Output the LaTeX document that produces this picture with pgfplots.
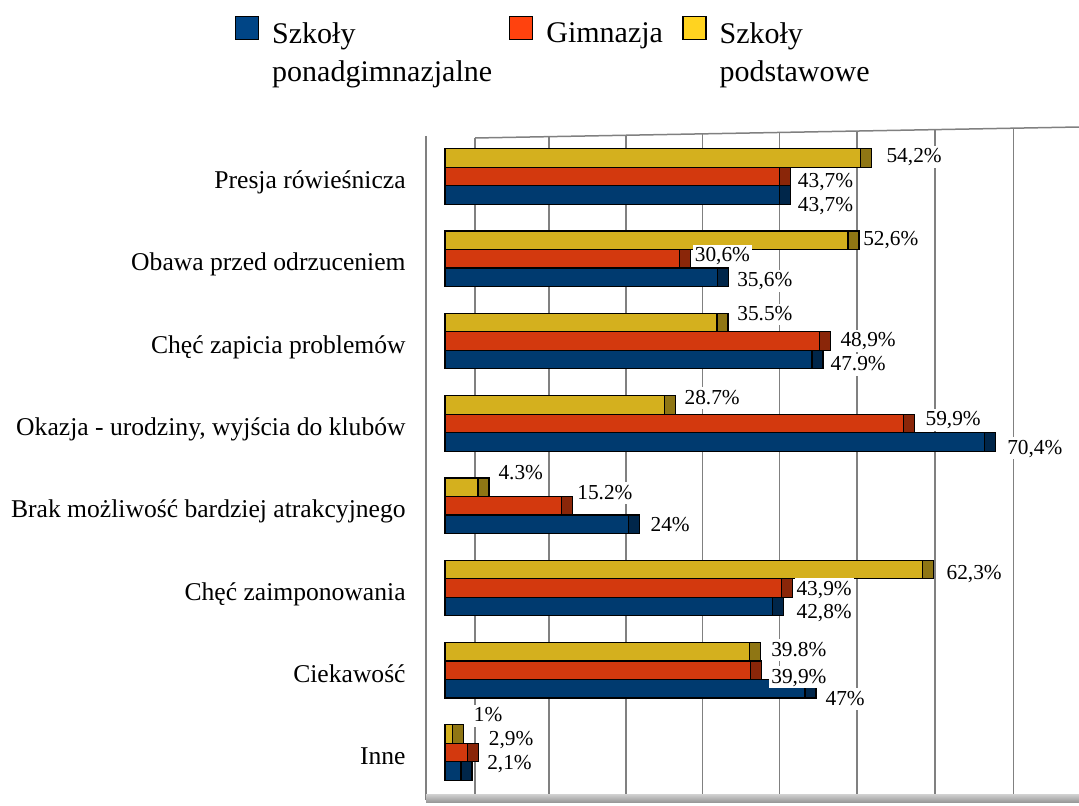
\documentclass[border=0pt]{standalone}
\usepackage{fontspec}
\setmainfont{Liberation Serif}
\usepackage{pgfplots}
\usepackage{pgfplotstable}
\pgfplotsset{compat=1.18}

\definecolor{barYel}{HTML}{D4B01E}
\definecolor{barRed}{HTML}{D3390E}
\definecolor{barBlue}{HTML}{003A6F}
\definecolor{capYel}{HTML}{8F7614}
\definecolor{capRed}{HTML}{8A2609}
\definecolor{capBlue}{HTML}{00264A}
\definecolor{legBlue}{HTML}{004586}
\definecolor{legRed}{HTML}{FF420E}
\definecolor{legYel}{HTML}{FFD320}
\definecolor{gridc}{HTML}{808080}

% k = category index (0 = top), v = value, lab = label text, dx/dy = label offsets (px)
\pgfplotstableread{
k v lab dx dy
0 54.2 54,2 14.8 -2.5
1 52.6 52,6 3.8 -2
2 35.5 35.5 8.8 -9.3
3 28.7 28.7 8.2 -8
4 4.3 4.3 9 -14.7
5 62.3 62,3 12.8 3
6 39.8 39.8 9.8 -3
7 1 1 9.6 -19.6
}\tabY

\pgfplotstableread{
k v lab dx dy
0 43.7 43,7 6.6 3.5
1 30.6 30,6 3.9 -4.1
2 48.9 48,9 9.4 -1.4
3 59.9 59,9 10.2 -5
4 15.2 15.2 4.3 -13.7
5 43.9 43,9 3.7 0
6 39.9 39,9 9.1 5.7
7 2.9 2,9 10.1 -14.3
}\tabR

\pgfplotstableread{
k v lab dx dy
0 43.7 43,7 6.6 9
1 35.6 35,6 8 2.4
2 47.9 47.9 7.1 4.1
3 70.4 70,4 11.4 5
4 24 24 10.2 0
5 42.8 42,8 12.2 5
6 47 47 9 9.2
7 2.1 2,1 14.6 -8.6
}\tabB

\pgfplotsset{
  capstyle/.style={xbar, draw=black, line width=0.6pt, forget plot,
    point meta=explicit symbolic,
    nodes near coords={\pgfplotspointmeta\%},
    visualization depends on={\thisrow{dx} \as \dx},
    visualization depends on={\thisrow{dy} \as \dy},
    nodes near coords style={anchor=west, font=\fontsize{10.67}{12}\selectfont,
      fill=white, draw=none, text=black, inner sep=1pt,
      text height=7.4pt, text depth=1.5pt,
      xshift={(\dx-2)*0.5pt}, yshift={-(\dy+1.3)*0.5pt}}},
  facestyle/.style={xbar, draw=black, line width=0.6pt},
}

\begin{document}
\begin{tikzpicture}
\path[use as bounding box] (0,0) rectangle (539.5pt,402.5pt);
% back wall grid
\begin{scope}[gridc, line width=0.75pt]
\draw (237.5pt,333.5pt) -- (237.5pt,4.5pt);
\draw (274.5pt,334.15pt) -- (274.5pt,4.5pt);
\draw (313pt,334.9pt) -- (313pt,4.5pt);
\draw (351.25pt,335.55pt) -- (351.25pt,4.5pt);
\draw (389.65pt,336.25pt) -- (389.65pt,4.5pt);
\draw (428.5pt,337pt) -- (428.5pt,4.5pt);
\draw (467.5pt,337.7pt) -- (467.5pt,4.5pt);
\draw (506.65pt,338.4pt) -- (506.65pt,4.5pt);
\draw (237.5pt,333.5pt) -- (539.5pt,339pt);
\draw (213pt,334.5pt) -- (213pt,2.5pt);
\end{scope}
\shade[top color=gray!35, bottom color=gray!80] (213pt,1.5pt) rectangle (539.5pt,5.5pt);

\begin{axis}[
  scale only axis, width=326.5pt, height=333.5pt,
  at={(213pt,5pt)}, anchor=south west,
  xmin=-2.48, xmax=82.77, ymin=-7.515, ymax=0.589,
  axis line style={draw=none},
  xtick=\empty,
  ytick={-7,-6,-5,-4,-3,-2,-1,0},
  yticklabels={Inne, Ciekawość, Chęć zaimponowania, Brak możliwość bardziej atrakcyjnego, {Okazja - urodziny, wyjścia do klubów}, Chęć zapicia problemów, Obawa przed odrzuceniem, Presja rówieśnicza},
  major tick length=0pt,
  yticklabel style={font=\fontsize{12.8}{15}\selectfont, anchor=base east, inner sep=0pt, xshift=-10pt, yshift=-6pt},
  clip=false,
  xbar, bar width=9.25pt, bar shift=0pt,
  legend columns=3, legend cell align=left,
  legend style={at={(-0.29249,1.16792)}, anchor=north west, draw=none, fill=none,
    inner sep=0pt, outer sep=0pt, column sep=0pt,
    font=\fontsize{15}{19}\selectfont,
    nodes={inner sep=0pt, outer sep=0pt},
    /tikz/every odd column/.style={column sep=6.5pt},
    /tikz/every even column/.style={column sep=0pt}},
]
% Szkoły ponadgimnazjalne (blue)
\addplot[capstyle, fill=capBlue] table[x expr=\thisrow{v}+1.436, y expr=-\thisrow{k}-0.2248, meta=lab]{\tabB};
\addplot[facestyle, fill=barBlue,
  legend image code/.code={\draw[fill=legBlue, draw=black, line width=0.6pt] (0pt,-0.35pt) rectangle (11.5pt,11.15pt);}]
  table[x=v, y expr=-\thisrow{k}-0.2248]{\tabB};
\addlegendentry{\raisebox{4.5pt}{\parbox[t]{118.5pt}{Szkoły\\ponadgimnazjalne}}}
% Gimnazja (red)
\addplot[capstyle, fill=capRed] table[x expr=\thisrow{v}+1.436, y expr=-\thisrow{k}, meta=lab]{\tabR};
\addplot[facestyle, fill=barRed,
  legend image code/.code={\draw[fill=legRed, draw=black, line width=0.6pt] (0pt,-0.35pt) rectangle (11.5pt,11.15pt);}]
  table[x=v, y expr=-\thisrow{k}]{\tabR};
\addlegendentry{\raisebox{4.5pt}{\parbox[t]{68pt}{Gimnazja}}}
% Szkoły podstawowe (yellow)
\addplot[capstyle, fill=capYel] table[x expr=\thisrow{v}+1.436, y expr=-\thisrow{k}+0.2248, meta=lab]{\tabY};
\addplot[facestyle, fill=barYel,
  legend image code/.code={\draw[fill=legYel, draw=black, line width=0.6pt] (0pt,-0.35pt) rectangle (11.5pt,11.15pt);}]
  table[x=v, y expr=-\thisrow{k}+0.2248]{\tabY};
\addlegendentry{\raisebox{4.5pt}{\parbox[t]{80pt}{Szkoły\\podstawowe}}}
\end{axis}
\end{tikzpicture}
\end{document}
